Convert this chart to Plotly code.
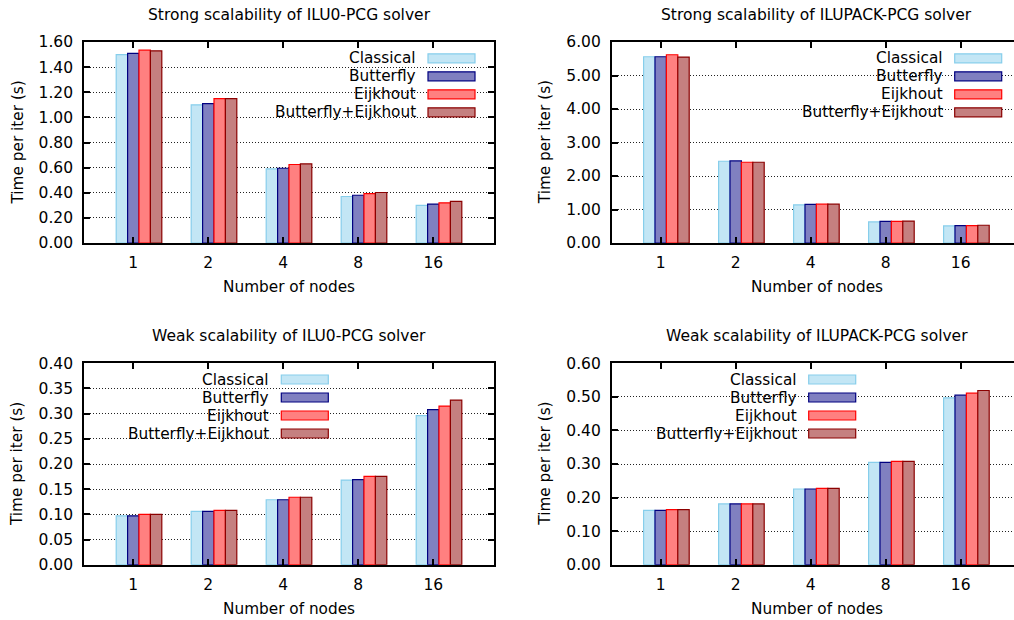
import plotly.graph_objects as go

# ---------------- data ----------------
nodes = ["1", "2", "4", "8", "16"]
series_names = ["Classical", "Butterfly", "Eijkhout", "Butterfly+Eijkhout"]

strong_ilu0_classical = [1.50, 1.10, 0.59, 0.37, 0.30]
strong_ilu0_butterfly = [1.51, 1.11, 0.595, 0.38, 0.31]
strong_ilu0_eijkhout = [1.535, 1.15, 0.625, 0.393, 0.32]
strong_ilu0_both = [1.53, 1.15, 0.63, 0.402, 0.332]

strong_ilupack_classical = [5.56, 2.44, 1.14, 0.63, 0.51]
strong_ilupack_butterfly = [5.56, 2.45, 1.15, 0.645, 0.52]
strong_ilupack_eijkhout = [5.62, 2.41, 1.16, 0.645, 0.52]
strong_ilupack_both = [5.55, 2.41, 1.16, 0.655, 0.53]

weak_ilu0_classical = [0.097, 0.106, 0.129, 0.168, 0.296]
weak_ilu0_butterfly = [0.097, 0.106, 0.129, 0.169, 0.308]
weak_ilu0_eijkhout = [0.100, 0.108, 0.134, 0.1755, 0.315]
weak_ilu0_both = [0.100, 0.108, 0.134, 0.1755, 0.327]

weak_ilupack_classical = [0.162, 0.181, 0.2255, 0.305, 0.497]
weak_ilupack_butterfly = [0.162, 0.181, 0.2255, 0.305, 0.505]
weak_ilupack_eijkhout = [0.164, 0.181, 0.2275, 0.308, 0.511]
weak_ilupack_both = [0.164, 0.181, 0.2275, 0.308, 0.519]

titles = [
    "Strong scalability of ILU0-PCG solver",
    "Strong scalability of ILUPACK-PCG solver",
    "Weak scalability of ILU0-PCG solver",
    "Weak scalability of ILUPACK-PCG solver",
]
y_max = [1.60, 6.00, 0.40, 0.60]
y_step = [0.20, 1.00, 0.05, 0.10]

panels = [
    [strong_ilu0_classical, strong_ilu0_butterfly, strong_ilu0_eijkhout, strong_ilu0_both],
    [strong_ilupack_classical, strong_ilupack_butterfly, strong_ilupack_eijkhout, strong_ilupack_both],
    [weak_ilu0_classical, weak_ilu0_butterfly, weak_ilu0_eijkhout, weak_ilu0_both],
    [weak_ilupack_classical, weak_ilupack_butterfly, weak_ilupack_eijkhout, weak_ilupack_both],
]

# ---------------- style ----------------
W, H = 1014, 620
FONT = "DejaVu Sans"
FS = 15.5
FS_AXT = 15.3
FS_TITLE = 15.5
FS_LEG = 15.3
fills = ["#c3e6f5", "#8080c0", "#ff8080", "#c58080"]
borders = ["#87ceeb", "#000080", "#ff0000", "#8b0000"]
bar_w = 0.152
bar_offsets = [-0.228, -0.076, 0.076, 0.228]
cat_px = 75.0  # pixels per category

# plot areas in pixels: (left, right, top, bottom); right column is clipped by the page edge
areas = [
    (84.0, 494.0, 42.0, 243.0),
    (611.7, 1014.0, 42.0, 243.0),
    (84.0, 494.0, 363.3, 564.7),
    (611.7, 1014.0, 363.3, 564.7),
]
full_right = [494.0, 1021.7, 494.0, 1021.7]
# legend swatch right edge and first row centre (pixels)
legend_pos = [(475.0, 58.3), (1001.7, 58.3), (328.3, 379.5), (855.7, 379.5)]
first_cat_px = [133.3, 660.7, 133.3, 660.7]


def fx(px):
    return px / W


def fy(py):
    return 1 - py / H


fig = go.Figure()
annotations = []
shapes = []

for i in range(4):
    sfx = "" if i == 0 else str(i + 1)
    xa, ya = "x" + sfx, "y" + sfx
    l, r, t, b = areas[i]
    for k in range(4):
        fig.add_trace(go.Bar(
            x=list(range(len(nodes))), y=panels[i][k], name=series_names[k],
            width=bar_w, offset=bar_offsets[k],
            marker=dict(color=fills[k], line=dict(color=borders[k], width=1.2)),
            xaxis=xa, yaxis=ya, showlegend=False,
        ))
    x0 = -(first_cat_px[i] - l) / cat_px
    x1 = x0 + (r - l) / cat_px
    right_col = i % 2 == 1
    fig.layout["xaxis" + sfx] = dict(
        domain=[fx(l), fx(r)], anchor=ya, range=[x0, x1],
        tickvals=list(range(len(nodes))), ticktext=nodes,
        ticks="inside", ticklen=6, tickwidth=1.5, tickcolor="#000",
        showline=True, linecolor="#000", linewidth=1.6, mirror="ticks",
        showgrid=False, zeroline=False, ticklabelstandoff=5, automargin=False,
        tickfont=dict(family=FONT, size=FS, color="#000"),
    )
    fig.layout["yaxis" + sfx] = dict(
        domain=[fy(b), fy(t)], anchor=xa, range=[0, y_max[i]],
        dtick=y_step[i], tick0=0, tickformat=".2f",
        ticks="inside", ticklen=6, tickwidth=1.5, tickcolor="#000",
        showline=True, linecolor="#000", linewidth=1.6,
        mirror=False if right_col else "ticks",
        showgrid=True, gridcolor="#222", gridwidth=1, griddash="1px,2px",
        zeroline=False, ticklabelstandoff=6, automargin=False,
        tickfont=dict(family=FONT, size=FS, color="#000"),
    )
    cx = (l + full_right[i]) / 2
    # subplot title
    annotations.append(dict(text=titles[i], xref="paper", yref="paper",
                            x=fx(cx), y=fy(t - 27), xanchor="center", yanchor="middle",
                            showarrow=False, font=dict(family=FONT, size=FS_TITLE, color="#000")))
    # x axis title
    annotations.append(dict(text="Number of nodes", xref="paper", yref="paper",
                            x=fx(cx), y=fy(b + 44.5), xanchor="center", yanchor="middle",
                            showarrow=False, font=dict(family=FONT, size=FS_AXT, color="#000")))
    # y axis title
    annotations.append(dict(text="Time per iter (s)", xref="paper", yref="paper",
                            x=fx(l - 67), y=fy((t + b) / 2), xanchor="center", yanchor="middle",
                            textangle=-90, showarrow=False,
                            font=dict(family=FONT, size=FS_AXT, color="#000")))
    # legend (gnuplot style: right-aligned text, sample box on the right)
    sw_r, row0 = legend_pos[i]
    sw_l = sw_r - 47
    box_r = sw_r + 10
    box_l = box_r - 243
    ppy = y_max[i] / (b - t)  # data units per pixel (y)

    def dx(px):
        return x0 + (px - l) / cat_px

    def dy(py):
        return (b - py) * ppy

    shapes.append(dict(type="rect", xref=xa, yref=ya,
                       x0=dx(box_l), x1=dx(box_r),
                       y0=dy(row0 + 3 * 18 + 9), y1=dy(row0 - 9),
                       fillcolor="white", line=dict(width=0), layer="below"))
    for k in range(4):
        ry = row0 + 18 * k
        shapes.append(dict(type="rect", xref="paper", yref="paper",
                           x0=fx(sw_l), x1=fx(sw_r), y0=fy(ry + 4.5), y1=fy(ry - 4.5),
                           fillcolor=fills[k], line=dict(color=borders[k], width=1.2)))
        annotations.append(dict(text=series_names[k], xref="paper", yref="paper",
                                x=fx(sw_l - 10), y=fy(ry), xanchor="right", yanchor="middle",
                                showarrow=False, font=dict(family=FONT, size=FS_LEG, color="#000")))

fig.update_layout(
    width=W, height=H, margin=dict(l=0, r=0, t=0, b=0, autoexpand=False),
    paper_bgcolor="white", plot_bgcolor="white",
    barmode="overlay", annotations=annotations, shapes=shapes,
    font=dict(family=FONT, size=FS, color="#000"),
)

fig.write_html("out.html")
